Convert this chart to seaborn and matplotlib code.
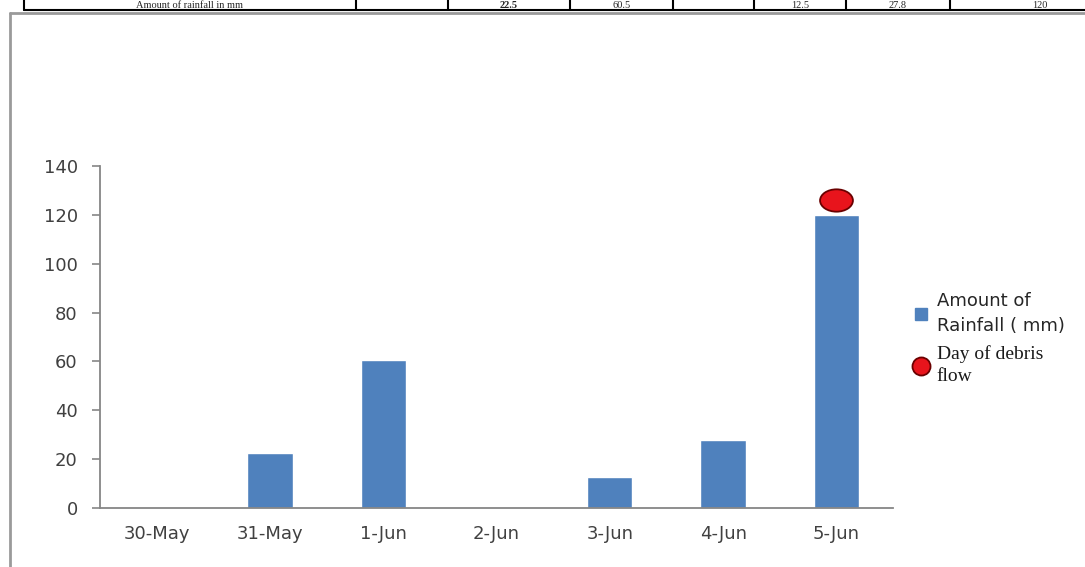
import numpy as np
import matplotlib
matplotlib.use("Agg")
import matplotlib.pyplot as plt
import seaborn as sns
from matplotlib.lines import Line2D
from matplotlib.path import Path

# data
dates = ["30-May", "31-May", "1-Jun", "2-Jun", "3-Jun", "4-Jun", "5-Jun"]
rainfall = [0, 22.5, 60.5, 0, 12.5, 27.8, 120]
debris_day = ["5-Jun"]
debris_level = [126]

# table row at the top of the picture
table_cells = ["Amount of rainfall in mm", "", "22.5", "60.5", "", "12.5", "27.8", "120"]
table_edges_px = [24, 356, 448, 570, 673, 754, 846, 950, 1130]

W, H = 1085, 567
bar_color = "#4F81BD"
axis_color = "#868686"
text_color = "#404040"

sns.set_theme(style="white")
plt.rcParams["font.family"] = ["DejaVu Sans"]

fig = plt.figure(figsize=(W / 100, H / 100), dpi=100)
ax = fig.add_axes([100 / W, 1 - 508 / H, 793 / W, 342 / H])

sns.barplot(x=dates, y=rainfall, color=bar_color, width=0.4, saturation=1, ax=ax)

# ellipse marker for the debris flow day
circ = Path.unit_circle()
ell = Path(circ.vertices * np.array([1.0, 0.68]), circ.codes)
xs = [dates.index(d) for d in debris_day]
ax.scatter(xs, debris_level, marker=ell, s=560, color="#E8141C",
           edgecolor="#6A0000", linewidth=1.3, zorder=4)

ax.set_xlim(-0.5, len(dates) - 0.5)
ax.set_ylim(0, 140)
ax.set_yticks(range(0, 141, 20))
ax.set_xticks(range(len(dates)))
ax.set_xticklabels(dates)
ax.set_xticks(np.arange(-0.5, len(dates), 1), minor=True)
ax.tick_params(axis="x", which="major", length=0, pad=12, labelsize=13, labelcolor=text_color)
ax.tick_params(axis="x", which="minor", direction="out", length=6, color=axis_color, width=1.2)
ax.tick_params(axis="y", direction="out", length=6, color=axis_color, width=1.2,
               pad=10, labelsize=13, labelcolor=text_color)
ax.tick_params(left=True, bottom=True)
for s in ["top", "right"]:
    ax.spines[s].set_visible(False)
for s in ["left", "bottom"]:
    ax.spines[s].set_color(axis_color)
    ax.spines[s].set_linewidth(1.3)
ax.set_xlabel("")
ax.set_ylabel("")

# legend
handles = [
    Line2D([], [], linestyle="none", marker="s", markersize=8, color=bar_color),
    Line2D([], [], linestyle="none", marker="o", markersize=13, markerfacecolor="#E8141C",
           markeredgecolor="#6A0000", markeredgewidth=1.3),
]
leg = fig.legend(handles, ["Amount of\nRainfall ( mm)", "Day of debris\nflow"],
                 loc="upper left", bbox_to_anchor=(896 / W, 1 - 276 / H), frameon=False,
                 handlelength=1.0, handletextpad=0.35, labelspacing=0.6, fontsize=13)
texts = leg.get_texts()
texts[0].set_color("#262626")
texts[0].set_linespacing(1.45)
texts[1].set_fontfamily(["Liberation Serif", "DejaVu Serif"])
texts[1].set_fontsize(14)
texts[1].set_color("#1a1a1a")
texts[1].set_linespacing(1.4)

# outer frame of the chart image
fig.add_artist(Line2D([10 / W, 10 / W], [0, 1 - 13 / H], color="#9a9a9a", lw=2))
fig.add_artist(Line2D([10 / W, 1], [1 - 13 / H, 1 - 13 / H], color="#9a9a9a", lw=2))

# table row at the top
ty = 1 - 10 / H
fig.add_artist(Line2D([table_edges_px[0] / W, 1], [ty, ty], color="black", lw=1.5))
for e in table_edges_px[:-1]:
    fig.add_artist(Line2D([e / W, e / W], [ty, 1], color="black", lw=1.5))
for i, t in enumerate(table_cells):
    cx = (table_edges_px[i] + table_edges_px[i + 1]) / 2 / W
    fig.text(cx, 1 - 8 / H, t, ha="center", va="baseline", fontsize=7.5,
             family=["Liberation Serif", "DejaVu Serif"],
             fontweight="bold" if i == 2 else "normal")

fig.savefig("out.png", dpi=100)
